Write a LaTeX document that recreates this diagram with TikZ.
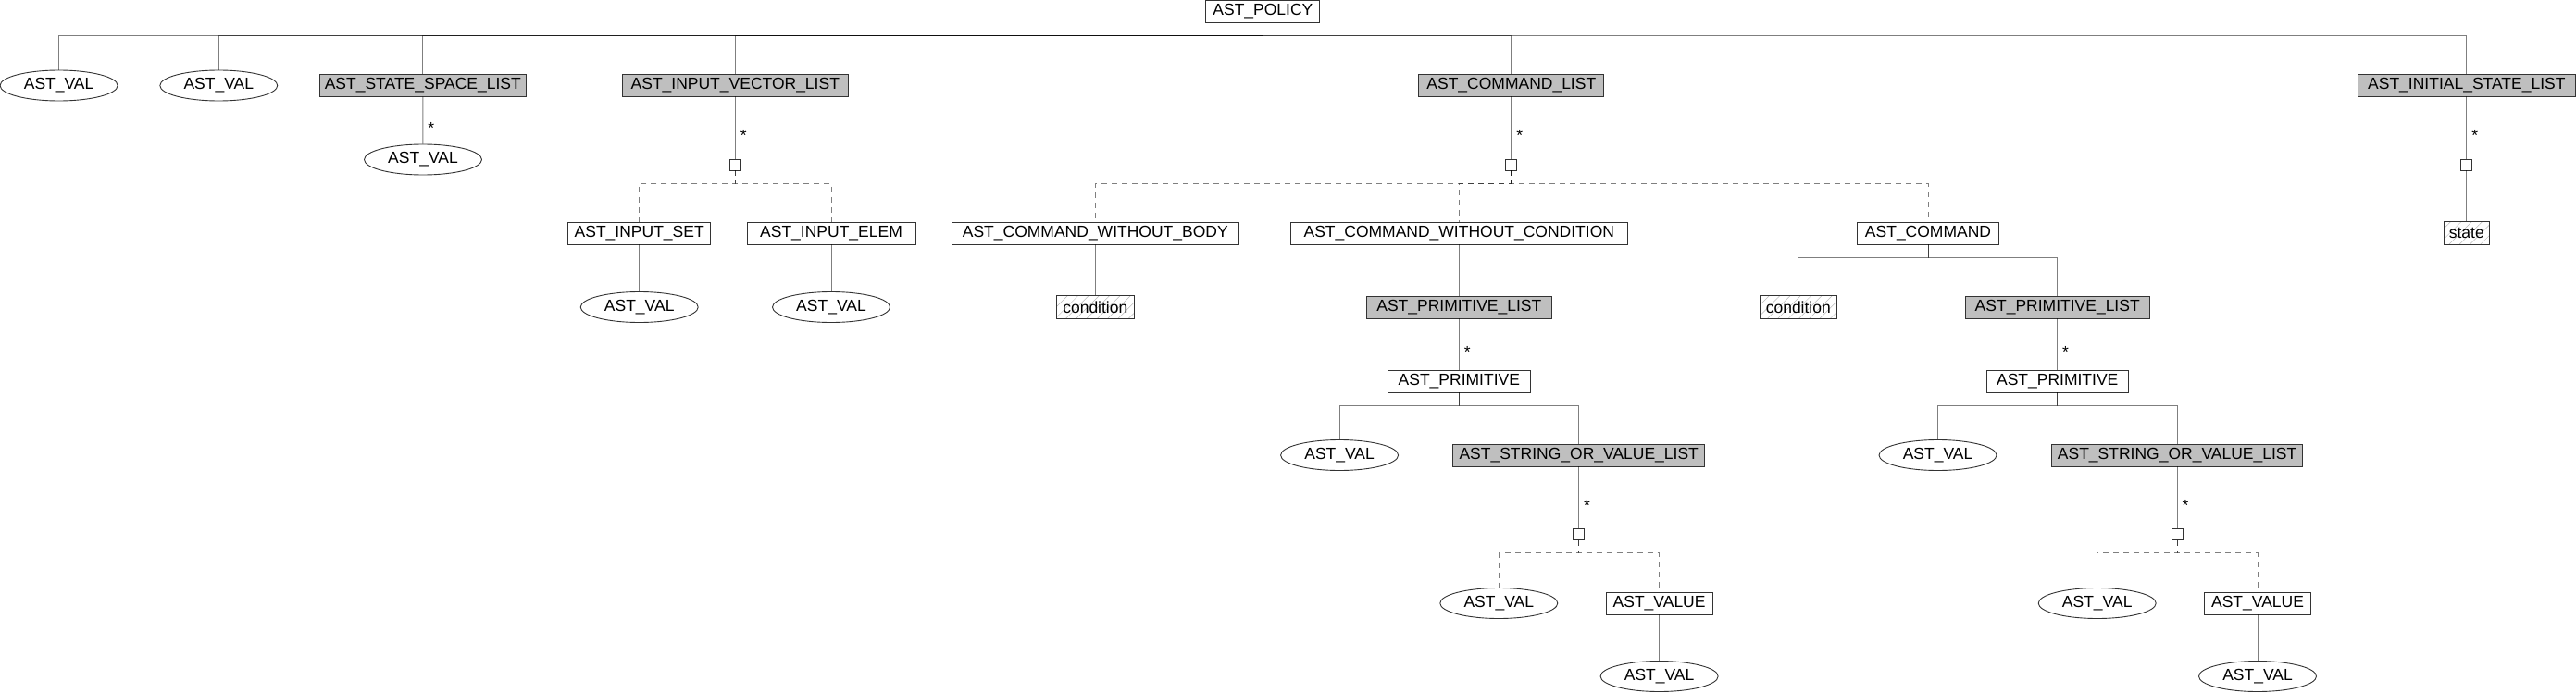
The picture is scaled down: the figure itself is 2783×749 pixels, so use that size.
\documentclass[tikz,border=0pt]{standalone}
\usepackage{fontspec}
\setmainfont{Liberation Sans}
\usetikzlibrary{shapes.geometric,patterns.meta}

\begin{document}
\begin{tikzpicture}[x=1pt,y=-1pt,font=\fontsize{17.5}{21}\selectfont,
	f/.style={draw=black!80,line width=0.9pt,minimum height=24pt,inner sep=0pt},
	fl/.style={f,fill=gray!50},
	fh/.style={f,minimum height=25pt,pattern={Lines[angle=45,distance=8pt,line width=0.5pt]},pattern color=gray!55},
	fv/.style={draw=black!80,line width=0.9pt,ellipse,minimum width=127pt,minimum height=33pt,inner sep=0pt},
	fq/.style={draw=black!80,line width=0.9pt,minimum size=12pt,inner sep=0pt},
	ln/.style={draw=black,draw opacity=0.5,line width=1pt},
	dl/.style={ln,dash pattern=on 6pt off 5pt},
	mul/.style={anchor=west,inner sep=0pt,xshift=5pt,yshift=-3.8pt}]
	\useasboundingbox (0,0) rectangle (2783,749);
	% top level
	\node[f,minimum width=123pt] (pol) at (1364.4,12) {AST\_POLICY};
	\node[fv] (v1) at (63.6,92.5) {AST\_VAL};
	\node[fv] (v2) at (236.3,92.5) {AST\_VAL};
	\node[fl,minimum width=223pt] (ssl) at (456.8,92) {AST\_STATE\_SPACE\_LIST};
	\node[fl,minimum width=243.5pt] (ivl) at (794.3,92) {AST\_INPUT\_VECTOR\_LIST};
	\node[fl,minimum width=200pt] (cml) at (1632.8,92) {AST\_COMMAND\_LIST};
	\node[fl,minimum width=234.4pt] (isl) at (2664.8,92) {AST\_INITIAL\_STATE\_LIST};
	\foreach \n in {v1,v2,ssl,ivl,cml,isl} \draw[ln] (pol.south) -- ++(0,14.5) -| (\n.north);
	% lists
	\node[fv] (sslv) at (457,172.5) {AST\_VAL};
	\node[fq] (ivlq) at (794.3,178) {};
	\node[fq] (cmlq) at (1632.8,178) {};
	\node[fq] (islq) at (2664.8,178) {};
	\draw[ln] (ssl) -- node[mul,pos=0.6]{*} (sslv);
	\draw[ln] (ivl) -- node[mul,pos=0.57]{*} (ivlq);
	\draw[ln] (cml) -- node[mul,pos=0.57]{*} (cmlq);
	\draw[ln] (isl) -- node[mul,pos=0.57]{*} (islq);
	\node[f,minimum width=154pt] (iset) at (690.7,252) {AST\_INPUT\_SET};
	\node[f,minimum width=182pt] (ielem) at (898,252) {AST\_INPUT\_ELEM};
	\node[f,minimum width=310pt] (cwb) at (1183.3,252) {AST\_COMMAND\_WITHOUT\_BODY};
	\node[f,minimum width=364pt] (cwc) at (1576.3,252) {AST\_COMMAND\_WITHOUT\_CONDITION};
	\node[f,minimum width=153.7pt] (cmd) at (2083,252) {AST\_COMMAND};
	\node[fh,minimum width=49.5pt] (state) at (2664.8,252) {state};
	\foreach \n in {iset,ielem} \draw[dl] (ivlq.south) -- ++(0,14) -| (\n.north);
	\foreach \n in {cwb,cwc,cmd} \draw[dl] (cmlq.south) -- ++(0,14) -| (\n.north);
	\draw[ln] (islq) -- (state);
	% commands
	\node[fv] (isetv) at (690.7,332) {AST\_VAL};
	\node[fv] (ielemv) at (898,332) {AST\_VAL};
	\node[fh,minimum width=83.5pt] (cwbc) at (1183.3,332) {condition};
	\node[fl,minimum width=199.4pt] (pla) at (1576.3,332) {AST\_PRIMITIVE\_LIST};
	\node[fh,minimum width=83.5pt] (cmdc) at (1942.8,332) {condition};
	\node[fl,minimum width=199.4pt] (plb) at (2222.7,332) {AST\_PRIMITIVE\_LIST};
	\draw[ln] (iset) -- (isetv);
	\draw[ln] (ielem) -- (ielemv);
	\draw[ln] (cwb) -- (cwbc);
	\draw[ln] (cwc) -- (pla);
	\foreach \n in {cmdc,plb} \draw[ln] (cmd.south) -- ++(0,14) -| (\n.north);
	% primitives
	\foreach \n/\c in {a/1576.3,b/2222.7} {
		\node[f,minimum width=153.3pt] (pr\n) at (\c,412) {AST\_PRIMITIVE};
		\node[fv] (prv\n) at (\c-129.2,492) {AST\_VAL};
		\node[fl,minimum width=271.6pt] (sov\n) at (\c+129.4,492) {AST\_STRING\_OR\_VALUE\_LIST};
		\node[fq] (sovq\n) at (\c+129.4,577.5) {};
		\node[fv] (sovv\n) at (\c+43,652) {AST\_VAL};
		\node[f,minimum width=115pt] (vl\n) at (\c+216.3,652) {AST\_VALUE};
		\node[fv] (vlv\n) at (\c+216.3,731) {AST\_VAL};
		\draw[ln] (pl\n) -- node[mul,pos=0.59]{*} (pr\n);
		\draw[ln] (pr\n.south) -- ++(0,14) -| (prv\n.north);
		\draw[ln] (pr\n.south) -- ++(0,14) -| (sov\n.north);
		\draw[ln] (sov\n) -- node[mul,pos=0.57]{*} (sovq\n);
		\draw[dl] (sovq\n.south) -- ++(0,14) -| (sovv\n.north);
		\draw[dl] (sovq\n.south) -- ++(0,14) -| (vl\n.north);
		\draw[ln] (vl\n) -- (vlv\n);
	}
\end{tikzpicture}
\end{document}
